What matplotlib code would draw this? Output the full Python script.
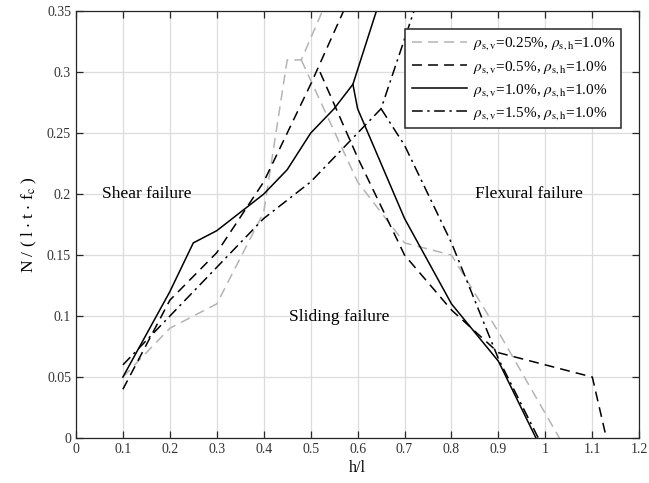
import matplotlib
matplotlib.use("Agg")
import matplotlib.pyplot as plt

plt.rcParams['font.family'] = ['Liberation Serif', 'DejaVu Serif']
plt.rcParams['mathtext.fontset'] = 'stix'

# shear/sliding boundary (rising) and sliding/flexural boundary (falling)
x_up_025 = [0.1, 0.2, 0.3, 0.4, 0.45, 0.48, 0.525]
y_up_025 = [0.05, 0.09, 0.11, 0.185, 0.31, 0.31, 0.35]
x_dn_025 = [0.48, 0.6, 0.7, 0.8, 0.9, 1.03]
y_dn_025 = [0.31, 0.21, 0.16, 0.15, 0.087, 0.0]

x_up_05 = [0.1, 0.2, 0.3, 0.4, 0.5, 0.57]
y_up_05 = [0.04, 0.113, 0.152, 0.21, 0.29, 0.35]
x_dn_05 = [0.52, 0.6, 0.7, 0.8, 0.9, 1.1, 1.13]
y_dn_05 = [0.30, 0.23, 0.15, 0.105, 0.07, 0.05, 0.0]

x_up_10 = [0.1, 0.2, 0.25, 0.3, 0.4, 0.45, 0.5, 0.55, 0.59, 0.64]
y_up_10 = [0.05, 0.12, 0.16, 0.17, 0.2, 0.22, 0.25, 0.27, 0.29, 0.35]
x_dn_10 = [0.59, 0.6, 0.7, 0.8, 0.9, 0.98]
y_dn_10 = [0.29, 0.27, 0.18, 0.11, 0.063, 0.0]

x_up_15 = [0.1, 0.2, 0.3, 0.4, 0.5, 0.65, 0.72]
y_up_15 = [0.06, 0.1, 0.14, 0.18, 0.21, 0.27, 0.35]
x_dn_15 = [0.65, 0.7, 0.8, 0.9, 0.985]
y_dn_15 = [0.27, 0.24, 0.16, 0.065, 0.0]

labels = [r'$\rho_{\mathrm{s,v}}$=0.25%, $\rho_{\mathrm{s,h}}$=1.0%',
          r'$\rho_{\mathrm{s,v}}$=0.5%, $\rho_{\mathrm{s,h}}$=1.0%',
          r'$\rho_{\mathrm{s,v}}$=1.0%, $\rho_{\mathrm{s,h}}$=1.0%',
          r'$\rho_{\mathrm{s,v}}$=1.5%, $\rho_{\mathrm{s,h}}$=1.0%']

fig = plt.figure(figsize=(6.49, 4.83), dpi=100)
ax = fig.add_axes([0.117, 0.093, 0.868, 0.884])

gray = '#b4b4b4'
dash = (0, (6.5, 4))
dashdot = (0, (7, 3, 1.5, 3))

ax.plot(x_up_025, y_up_025, color=gray, ls=dash, lw=1.1, label=labels[0])
ax.plot(x_dn_025, y_dn_025, color=gray, ls=dash, lw=1.1)
ax.plot(x_up_05, y_up_05, color='k', ls=dash, lw=1.1, label=labels[1])
ax.plot(x_dn_05, y_dn_05, color='k', ls=dash, lw=1.1)
ax.plot(x_up_10, y_up_10, color='k', ls='-', lw=1.1, label=labels[2])
ax.plot(x_dn_10, y_dn_10, color='k', ls='-', lw=1.1)
ax.plot(x_up_15, y_up_15, color='k', ls=dashdot, lw=1.1, label=labels[3])
ax.plot(x_dn_15, y_dn_15, color='k', ls=dashdot, lw=1.1)

ax.text(0.15, 0.2, 'Shear failure', fontsize=12.5, ha='center', va='center')
ax.text(0.56, 0.099, 'Sliding failure', fontsize=12.5, ha='center', va='center')
ax.text(0.965, 0.2, 'Flexural failure', fontsize=12.5, ha='center', va='center')

ax.set_xlim(0, 1.2)
ax.set_ylim(0, 0.35)
ax.set_xticks([0, 0.1, 0.2, 0.3, 0.4, 0.5, 0.6, 0.7, 0.8, 0.9, 1, 1.1, 1.2])
ax.set_xticklabels(['0', '0.1', '0.2', '0.3', '0.4', '0.5', '0.6', '0.7', '0.8',
                    '0.9', '1', '1.1', '1.2'])
ax.set_yticks([0, 0.05, 0.1, 0.15, 0.2, 0.25, 0.3, 0.35])
ax.set_yticklabels(['0', '0.05', '0.1', '0.15', '0.2', '0.25', '0.3', '0.35'])
ax.grid(True, color='#dcdcdc', lw=0.9)
ax.set_axisbelow(True)
ax.tick_params(direction='in', top=True, right=True, length=5, width=0.9,
               labelsize=10, colors='#262626', labelcolor='#333333')
for s in ax.spines.values():
    s.set_linewidth(0.9)
    s.set_color('#262626')

ax.set_xlabel('h/l', fontsize=11.5, labelpad=3)
ax.set_ylabel(r'N / ( l $\cdot$ t $\cdot$ f$_{\mathrm{c}}$ )', fontsize=12.5,
              labelpad=6)

leg = ax.legend(loc='upper right', fontsize=11, frameon=True, fancybox=False,
                edgecolor='#262626', framealpha=1, handlelength=3.6,
                borderaxespad=1.2, labelspacing=0.4, handletextpad=0.4)
leg.get_frame().set_linewidth(1.1)

fig.savefig('out.png', dpi=100)
